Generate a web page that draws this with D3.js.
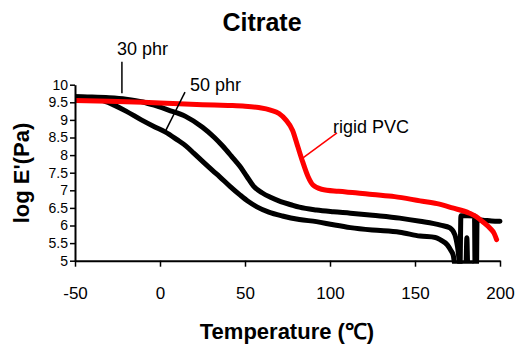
<!DOCTYPE html>
<html>
<head>
<meta charset="utf-8">
<script src="https://cdnjs.cloudflare.com/ajax/libs/d3/7.8.5/d3.min.js"></script>
<style>
  body { margin: 0; background: #fff; }
  svg { font-family: "Liberation Sans", Arial, sans-serif; }
</style>
</head>
<body>
<div id="chart"></div>
<script>
// temperature (C) and log E' readings for each sample
var temp30 = [-50, -40, -30, -20, -10, -3, 5, 15, 25, 32, 37, 42, 47, 51, 55, 60, 65, 71, 77, 82, 92, 102, 112, 125, 141, 153, 165, 170.6, 173.5, 175, 176.5, 177, 181, 185, 185.3, 186.2, 186.5, 190, 195, 200];
var logE30 = [9.66, 9.65, 9.63, 9.59, 9.51, 9.41, 9.28, 9.1, 8.79, 8.5, 8.25, 7.97, 7.68, 7.4, 7.12, 6.93, 6.8, 6.68, 6.59, 6.52, 6.44, 6.39, 6.35, 6.29, 6.21, 6.12, 6.01, 5.93, 5.73, 5.4, 4.9, 6.28, 6.28, 6.27, 4.9, 4.9, 6.16, 6.15, 6.13, 6.12];

var temp50 = [-50, -40, -33, -27, -20, -11, -3, 3, 10, 15, 20, 26, 31, 35, 41, 47, 52, 57, 64, 72, 82, 92, 102, 112, 125, 141, 153, 162, 165, 169, 171, 172.5, 173.5, 180, 180.5, 181, 183];
var logE50 = [9.66, 9.62, 9.54, 9.42, 9.25, 9.0, 8.8, 8.66, 8.44, 8.27, 8.05, 7.78, 7.56, 7.39, 7.12, 6.87, 6.68, 6.53, 6.38, 6.27, 6.17, 6.11, 6.02, 5.94, 5.87, 5.81, 5.7, 5.66, 5.59, 5.45, 5.3, 5.15, 4.9, 4.9, 5.65, 4.9, 4.9];

var tempPVC = [-50, -30, -10, 0, 25, 40, 50, 58, 65, 70, 74, 78, 81, 84, 87, 90, 95, 105, 115, 125, 138, 153, 163, 172, 182, 186, 190, 194, 196.5, 198];
var logEPVC = [9.55, 9.53, 9.5, 9.48, 9.43, 9.41, 9.39, 9.35, 9.28, 9.18, 9.0, 8.7, 8.25, 7.8, 7.4, 7.15, 7.03, 6.97, 6.93, 6.88, 6.82, 6.7, 6.62, 6.5, 6.35, 6.25, 6.1, 5.93, 5.78, 5.6];

var xTicks = [-50, 0, 50, 100, 150, 200];
var yTicks = [5, 5.5, 6, 6.5, 7, 7.5, 8, 8.5, 9, 9.5, 10];

// callouts: label anchor and leader line ends, in data units
var labels = [
  {text: "30 phr", t: -25.3, v: 10.85, line: [[-22.4, 10.65], [-22.4, 9.76]], color: "#000"},
  {text: "50 phr", t: 17.6, v: 9.82, line: [[14.7, 9.79], [3.5, 8.71]], color: "#000"},
  {text: "rigid PVC", t: 101.8, v: 8.63, line: [[104.1, 8.63], [84.1, 7.92]], color: "#ff0000"}
];

var width = 517, height = 349;
var plotLeft = 75, plotRight = 500, plotTop = 84.7, plotBottom = 260.7;

var svg = d3.select("#chart").append("svg")
  .attr("width", width)
  .attr("height", height);

var x = d3.scaleLinear().domain([-50, 200]).range([plotLeft, plotRight]);
var y = d3.scaleLinear().domain([5, 10]).range([plotBottom, plotTop]);

svg.append("clipPath").attr("id", "plot")
  .append("rect")
  .attr("x", plotLeft).attr("y", plotTop - 10)
  .attr("width", plotRight - plotLeft + 10).attr("height", plotBottom - plotTop + 13);

function zip(ts, vs) {
  return ts.map(function (t, i) { return [t, vs[i]]; });
}

var line = d3.line()
  .x(function (d) { return x(d[0]); })
  .y(function (d) { return y(d[1]); })
  .curve(d3.curveMonotoneX);

var series = [
  {data: zip(temp50, logE50), color: "#000"},
  {data: zip(temp30, logE30), color: "#000"},
  {data: zip(tempPVC, logEPVC), color: "#ff0000"}
];

var plot = svg.append("g").attr("clip-path", "url(#plot)");
series.forEach(function (s) {
  plot.append("path")
    .attr("d", line(s.data))
    .attr("fill", "none")
    .attr("stroke", s.color)
    .attr("stroke-width", 5)
    .attr("stroke-linejoin", "round")
    .attr("stroke-linecap", "round");
});

// axes
var xAxis = svg.append("g")
  .attr("transform", "translate(0," + plotBottom + ")")
  .call(d3.axisBottom(x).tickValues(xTicks).tickSize(6).tickPadding(20).tickSizeOuter(0)
    .tickFormat(function (d) { return String(d); }));
xAxis.select(".domain").attr("stroke-width", 2);
xAxis.selectAll(".tick line").attr("stroke-width", 1.5);
xAxis.selectAll("text").style("font-size", "17px").attr("fill", "#000");

var yAxis = svg.append("g")
  .attr("transform", "translate(" + plotLeft + ",0)")
  .call(d3.axisLeft(y).tickValues(yTicks).tickSize(5).tickPadding(2).tickSizeOuter(0)
    .tickFormat(function (d) { return String(d); }));
yAxis.select(".domain").attr("stroke-width", 2);
yAxis.selectAll(".tick line").attr("stroke-width", 1.5);
yAxis.selectAll("text").style("font-size", "14px").attr("fill", "#000");

// callouts
labels.forEach(function (l) {
  svg.append("line")
    .attr("x1", x(l.line[0][0])).attr("y1", y(l.line[0][1]))
    .attr("x2", x(l.line[1][0])).attr("y2", y(l.line[1][1]))
    .attr("stroke", l.color)
    .attr("stroke-width", 1.5);
  svg.append("text")
    .attr("x", x(l.t))
    .attr("y", y(l.v))
    .style("font-size", "18px")
    .text(l.text);
});

svg.append("text")
  .attr("x", 262).attr("y", 31)
  .attr("text-anchor", "middle")
  .style("font-size", "25px")
  .style("font-weight", "bold")
  .text("Citrate");

svg.append("text")
  .attr("x", 287).attr("y", 339)
  .attr("text-anchor", "middle")
  .style("font-size", "22px")
  .style("font-weight", "bold")
  .text("Temperature (℃)");

svg.append("text")
  .attr("transform", "translate(29,173) rotate(-90)")
  .attr("text-anchor", "middle")
  .style("font-size", "22px")
  .style("font-weight", "bold")
  .text("log E'(Pa)");
</script>
</body>
</html>
